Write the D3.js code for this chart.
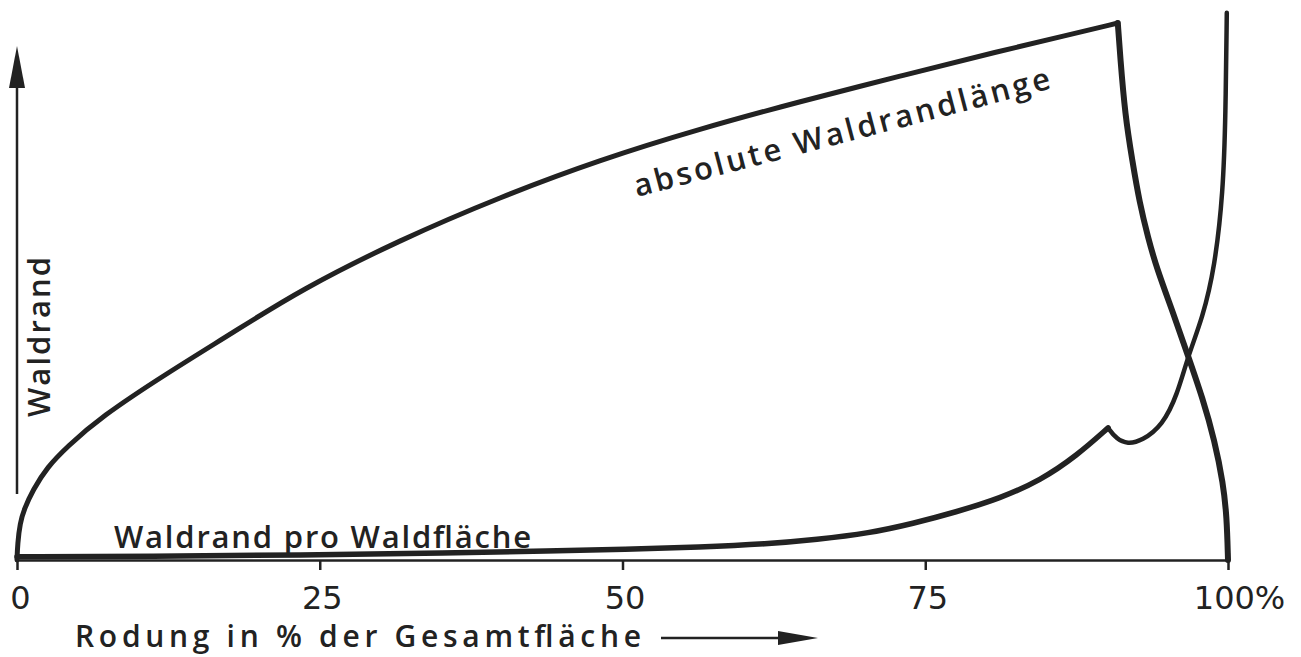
<!DOCTYPE html>
<html>
<head>
<meta charset="utf-8">
<script src="https://cdn.jsdelivr.net/npm/d3@7"></script>
<style>
  body { margin: 0; background: #fff; }
  svg { display: block; }
  .lbl { font-family: "Open Sans", "DejaVu Sans", sans-serif; font-weight: 600; fill: #222; }
</style>
</head>
<body>
<svg id="chart" width="1301" height="657"></svg>
<script>
// x: Rodung in % der Gesamtfläche, y: Waldrand (relative units, 100 = peak of absolute length)
const xTicks = [0, 25, 50, 75, 100];

// absolute Waldrandlänge, rising part up to the peak
const absoluteRising = [
    [0, 0], [0.05, 3.0], [0.25, 6.9], [0.6, 9.5], [1.3, 13.0], [2.5, 17.3],
    [4.1, 21.0], [6.9, 26.6], [12.4, 34.8], [17.8, 42.3], [23.4, 50.3],
    [31.6, 59.6], [39.9, 67.6], [48.1, 74.5], [56.4, 80.3], [64.7, 85.4],
    [72.9, 90.1], [81.2, 94.8], [86.7, 97.7], [90.9, 100]
];
// absolute Waldrandlänge, falling part after the peak
const absoluteFalling = [
    [90.9, 100], [91.1, 93.7], [91.5, 82.9], [92.1, 74.3], [92.7, 66.5], [93.4, 60.0],
    [94.1, 54.4], [95.5, 45.8], [96.7, 38.0], [97.9, 30.2], [98.9, 22.2],
    [99.6, 14.3], [99.9, 8.0], [100, 0]
];
// Waldrand pro Waldfläche, up to the small kink
const perAreaLow = [
    [0, 0.6], [11.0, 0.7], [23.4, 0.9], [35.8, 1.3], [44.0, 1.7], [50.2, 2.0],
    [56.4, 2.4], [62.0, 3.0], [66.0, 3.8], [70.4, 5.0], [74.0, 6.8], [77.5, 8.9],
    [81.2, 11.5], [84.5, 14.8], [87.5, 19.4], [90.1, 24.6]
];
// Waldrand pro Waldfläche, after the kink
const perAreaHigh = [
    [90.1, 24.6], [90.8, 22.5], [91.7, 21.6], [92.9, 22.2], [94.6, 25.1], [95.8, 30.7],
    [96.7, 38.0], [97.9, 45.1], [98.9, 54.4], [99.6, 68.5], [99.8, 82.9], [99.9, 101.9]
];

const svg = d3.select('#chart');
const ink = '#222';

let x = d3.scaleLinear().domain([0, 100]).range([17, 1228]);
let y = d3.scaleLinear().domain([0, 100]).range([560, 23]);

let line = d3.line()
    .x(d => x(d[0]))
    .y(d => y(d[1]))
    .curve(d3.curveBasis);

// x axis
let xAxis = svg.append('g')
    .attr('transform', `translate(0,${y(0)})`)
    .call(d3.axisBottom(x)
        .tickValues(xTicks)
        .tickSize(10)
        .tickSizeOuter(0)
        .tickPadding(16)
        .tickFormat(d => d === 100 ? '100%' : d));
xAxis.select('.domain').attr('stroke', ink).attr('stroke-width', 2.5);
xAxis.selectAll('.tick line').attr('stroke', ink).attr('stroke-width', 2.5);
xAxis.selectAll('.tick text')
    .attr('fill', ink)
    .style('font-family', '"DejaVu Sans", sans-serif')
    .style('font-size', '32px')
    .attr('dx', d => d === 100 ? 11 : (d === 0 ? 3 : 2));

// y axis arrow
svg.append('line')
    .attr('x1', x(0)).attr('x2', x(0))
    .attr('y1', 494).attr('y2', 80)
    .attr('stroke', ink).attr('stroke-width', 2.5);
svg.append('path')
    .attr('d', `M${x(0)},46 L${x(0) - 8},88 L${x(0) + 8},88 Z`)
    .attr('fill', ink);

// curves
let curves = [
    {data: absoluteRising, w: 5},
    {data: absoluteFalling, w: 6},
    {data: perAreaLow, w: 5.5},
    {data: perAreaHigh, w: 4.5}
];
svg.selectAll('path.curve')
    .data(curves)
    .enter()
    .append('path')
    .classed('curve', true)
    .attr('d', d => line(d.data))
    .attr('fill', 'none')
    .attr('stroke', ink)
    .attr('stroke-width', d => d.w)
    .attr('stroke-linejoin', 'round')
    .attr('stroke-linecap', 'round');

// labels
svg.append('text').classed('lbl', true)
    .attr('x', 114).attr('y', 548)
    .attr('textLength', 417).attr('lengthAdjust', 'spacing')
    .style('font-size', '31px')
    .text('Waldrand pro Waldfläche');

svg.append('text').classed('lbl', true)
    .attr('transform', 'translate(637,197) rotate(-14.7)')
    .attr('textLength', 429).attr('lengthAdjust', 'spacing')
    .style('font-size', '31px')
    .text('absolute Waldrandlänge');

svg.append('text').classed('lbl', true)
    .attr('transform', 'translate(50,417) rotate(-90)')
    .attr('textLength', 160).attr('lengthAdjust', 'spacing')
    .style('font-size', '31px')
    .text('Waldrand');

svg.append('text').classed('lbl', true)
    .attr('x', 75).attr('y', 647)
    .attr('textLength', 566).attr('lengthAdjust', 'spacing')
    .style('font-size', '30px')
    .text('Rodung in % der Gesamtfläche');

// arrow after the axis title
svg.append('line')
    .attr('x1', 661).attr('x2', 782)
    .attr('y1', 638).attr('y2', 638)
    .attr('stroke', ink).attr('stroke-width', 2.5);
svg.append('path')
    .attr('d', 'M778,631 L818,638 L778,645 Z')
    .attr('fill', ink);
</script>
</body>
</html>
